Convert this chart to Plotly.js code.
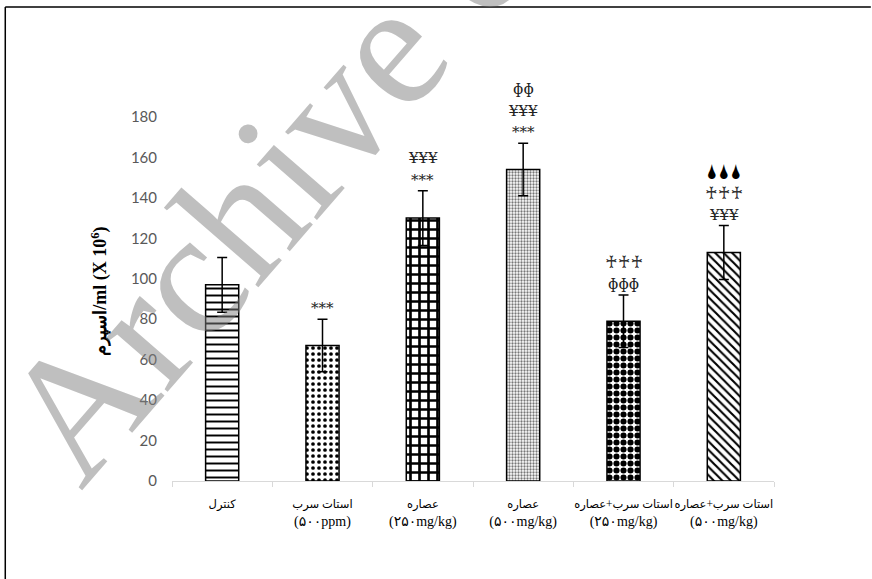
<!DOCTYPE html>
<html>
<head>
<meta charset="utf-8">
<script src="https://cdn.plot.ly/plotly-3.0.1.min.js"></script>
<style>html,body{margin:0;padding:0;background:#fff;}#chart{width:872px;height:579px;}</style>
</head>
<body>
<div id="chart"></div>
<script>
// ---- data ----
const categories = [
  'کنترل',
  'استات سرب<br>(۵۰۰ppm)',
  'عصاره<br>(۲۵۰mg/kg)',
  'عصاره<br>(۵۰۰mg/kg)',
  'استات سرب+عصاره<br>(۲۵۰mg/kg)',
  'استات سرب+عصاره<br>(۵۰۰mg/kg)'
];
const meanValues = [97, 67, 130, 154, 79, 113];
const errorValues = [13.5, 13, 13.5, 13, 13, 13.3];
const yTickValues = [0, 20, 40, 60, 80, 100, 120, 140, 160, 180];
const yTickLabels = ['0', '20', '40', '60', '80', '100', '120', '140', '160', '180'];
const YEN = '¥\u0336¥\u0336¥\u0336';
const CROSS = '♰♰♰';
const DROP = '🌢🌢🌢';
const significanceMarks = [
  [],
  ['***'],
  ['***', YEN],
  ['***', YEN, 'ɸɸ'],
  ['ɸɸɸ', CROSS],
  [YEN, CROSS, DROP]
];
const yAxisTitle = 'اسپرم/ml (X 10<sup>6</sup>)';
const watermarkText = 'Archive of SID';

// ---- styles ----
const patterns = [
  {shape: '-', fgcolor: '#000', bgcolor: '#fff', size: 7, solidity: 0.28},
  {shape: '.', fgcolor: '#000', bgcolor: '#fff', size: 6, solidity: 0.3},
  {shape: '+', fgcolor: '#000', bgcolor: '#fff', size: 9, solidity: 0.5},
  {shape: '.', fgcolor: '#777', bgcolor: '#fff', size: 3, solidity: 0.45},
  {shape: '.', fgcolor: '#000', bgcolor: '#fff', size: 7, solidity: 0.6},
  {shape: '\\', fgcolor: '#000', bgcolor: '#fff', size: 6, solidity: 0.35}
];
function markFont(m) {
  if (m === CROSS) return {family: 'DejaVu Sans, sans-serif', size: 17, color: '#333'};
  if (m === DROP) return {family: 'DejaVu Sans, sans-serif', size: 20, color: '#000'};
  return {family: 'DejaVu Serif, Liberation Serif, serif', size: 15, color: '#222'};
}
// tick label text built from categories: Arabic line a little smaller
const tickText = categories.map(c => {
  const parts = c.split('<br>');
  return '<span style="font-size:11.5px">' + parts[0] + '</span>' + (parts[1] ? '<br>' + parts[1] : '');
});

const traces = meanValues.map((v, i) => ({
  type: 'bar',
  x: [categories[i]],
  y: [v],
  width: 0.33,
  error_y: {type: 'data', array: [errorValues[i]], visible: true, color: '#000', thickness: 1.5, width: 5},
  marker: {color: '#fff', line: {color: '#000', width: 1.5}, pattern: patterns[i]},
  showlegend: false,
  hoverinfo: 'skip'
}));

const annotations = [];
significanceMarks.forEach((marks, i) => {
  marks.forEach((m, j) => {
    annotations.push({
      x: categories[i], y: meanValues[i] + errorValues[i], xref: 'x', yref: 'y',
      text: m, showarrow: false, xanchor: 'center', yanchor: 'middle',
      yshift: 11 + 21.5 * j,
      font: markFont(m)
    });
  });
});
annotations.push({
  xref: 'paper', yref: 'paper', x: -0.12, y: 0.522, text: yAxisTitle, showarrow: false,
  textangle: -90, xanchor: 'center', yanchor: 'middle',
  font: {family: 'Liberation Serif, DejaVu Serif, serif', size: 18, color: '#000', weight: 'bold'}
});
annotations.push({
  xref: 'paper', yref: 'paper', x: (396 - 172) / 603, y: (481 - 38) / 364,
  text: watermarkText, showarrow: false, textangle: -49, xanchor: 'center', yanchor: 'middle',
  font: {family: 'Liberation Serif, serif', size: 178, color: 'rgba(128,128,128,0.5)'}
});

const px = v => (v - 172) / 603;
const py = v => (481 - v) / 364;
const shapes = [
  {type: 'line', xref: 'paper', yref: 'paper', x0: px(5), x1: px(872), y0: py(7), y1: py(7), line: {color: '#000', width: 1.5}},
  {type: 'line', xref: 'paper', yref: 'paper', x0: px(5), x1: px(5), y0: py(7), y1: py(579), line: {color: '#000', width: 1.5}}
];

const layout = {
  width: 872, height: 579,
  margin: {l: 172, r: 98, t: 117, b: 98},
  paper_bgcolor: '#fff', plot_bgcolor: '#fff',
  bargap: 0.67,
  xaxis: {
    type: 'category', showgrid: false, zeroline: false,
    showline: true, linecolor: '#d9d9d9', linewidth: 1,
    ticks: 'outside', tickson: 'boundaries', ticklen: 5, tickcolor: '#d9d9d9',
    tickmode: 'array', tickvals: categories, ticktext: tickText,
    tickangle: 0, ticklabelstandoff: 9,
    tickfont: {family: 'Liberation Serif, DejaVu Sans, serif', size: 14, color: '#000'},
    fixedrange: true
  },
  yaxis: {
    range: [0, 180], showgrid: false, zeroline: false, showline: false,
    tickvals: yTickValues, ticktext: yTickLabels, ticks: '',
    ticklabelstandoff: 14,
    tickfont: {family: 'Lato, Open Sans, sans-serif', size: 15, color: '#595959'},
    fixedrange: true
  },
  annotations: annotations,
  shapes: shapes
};

Plotly.newPlot('chart', traces, layout, {displayModeBar: false, staticPlot: true});
</script>
</body>
</html>
